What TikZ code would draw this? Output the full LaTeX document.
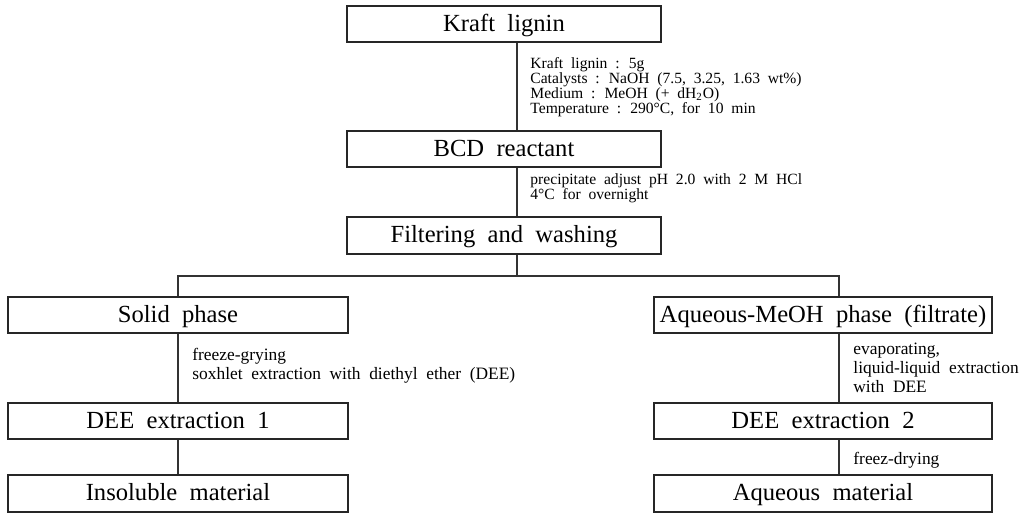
\documentclass[tikz,border=0pt]{standalone}
\usepackage{fontspec}
\setmainfont{Liberation Serif}
\newfontfamily\boxfont[WordSpace=1.5]{Liberation Serif}
\newfontfamily\annfont[WordSpace=2.0]{Liberation Serif}
\tikzset{
  stage/.style={draw=black!85, line width=0.55pt, inner sep=0pt, fill=white,
                text height=9pt, text depth=2pt,
                font=\boxfont\fontsize{12.3}{14}\selectfont},
  midbox/.style={stage, minimum width=157pt, minimum height=18pt},
  leftbox/.style={stage, minimum width=170pt, minimum height=18pt},
  rightbox/.style={stage, minimum width=169pt, minimum height=18pt},
  ann/.style={anchor=base west, inner sep=0pt, font=\annfont\fontsize{7.8}{9}\selectfont},
  sideann/.style={ann, font=\annfont\fontsize{8.7}{10}\selectfont},
  link/.style={draw=black!80, line width=0.55pt}
}
\begin{document}
\begin{tikzpicture}[x=0.5pt,y=-0.5pt]
\useasboundingbox[fill=white] (0,0) rectangle (1026,514);
% connector reference coordinates
\coordinate (cx) at (517,0);
\coordinate (rx) at (839,0);
\coordinate (split) at (517,276);
% boxes
\node[midbox] (kraft) at (504,24) {Kraft lignin};
\node[midbox] (bcd) at (504,149) {BCD reactant};
\node[midbox, minimum height=18.5pt] (filt) at (504,235.5) {Filtering and washing};
\node[leftbox] (solid) at (178,315) {Solid phase};
\node[rightbox] (aq) at (823,315) {Aqueous-MeOH phase (filtrate)};
\node[leftbox] (dee1) at (178,421) {DEE extraction 1};
\node[rightbox] (dee2) at (823,421) {DEE extraction 2};
\node[leftbox, minimum height=18.5pt] (insol) at (178,493.5) {Insoluble material};
\node[rightbox, minimum height=18.5pt] (aqm) at (823,493.5) {Aqueous material};
% connectors
\draw[link] (kraft.south -| cx) -- (bcd.north -| cx);
\draw[link] (bcd.south -| cx) -- (filt.north -| cx);
\draw[link] (filt.south -| cx) -- (split);
\draw[link] (solid.north) |- (split) -| (aq.north -| rx);
\draw[link] (solid.south) -- (dee1.north);
\draw[link] (dee1.south) -- (insol.north);
\draw[link] (aq.south -| rx) -- (dee2.north -| rx);
\draw[link] (dee2.south -| rx) -- (aqm.north -| rx);
% annotations
\node[ann] (a1) at (530,68) {Kraft lignin : 5g};
\node[ann] (a2) at (530,83) {Catalysts : NaOH (7.5, 3.25, 1.63 wt\%)};
\node[ann] (a3) at (530,98) {Medium : MeOH (+ dH\textsubscript{2}O)};
\node[ann] (a4) at (530,113) {Temperature : 290°C, for 10 min};
\node[ann] (b1) at (530,184) {precipitate adjust pH 2.0 with 2 M HCl};
\node[ann] (b2) at (530,199) {4°C for overnight};
\node[sideann] (c1) at (192,360) {freeze-grying};
\node[sideann] (c2) at (192,379) {soxhlet extraction with diethyl ether (DEE)};
\node[sideann] (d1) at (853,354) {evaporating,};
\node[sideann] (d2) at (853,373) {liquid-liquid extraction};
\node[sideann] (d3) at (853,392) {with DEE};
\node[sideann] (d4) at (853,464) {freez-drying};
\end{tikzpicture}
\end{document}
